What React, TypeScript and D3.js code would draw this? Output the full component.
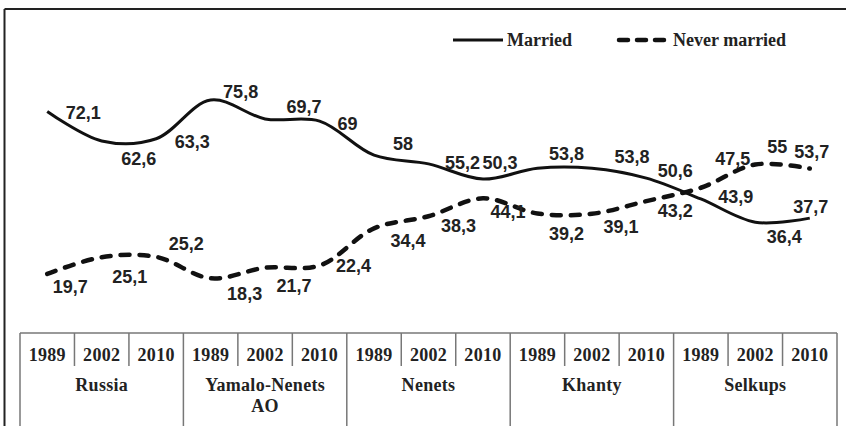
import React from "react";
import * as d3 from "d3";

const groups = ["Russia", "Yamalo-Nenets AO", "Nenets", "Khanty", "Selkups"];
const years = ["1989", "2002", "2010"];
const married = [72.1, 62.6, 63.3, 75.8, 69.7, 69, 58, 55.2, 50.3, 53.8, 53.8, 50.6, 43.9, 36.4, 37.7];
const neverMarried = [19.7, 25.1, 25.2, 18.3, 21.7, 22.4, 34.4, 38.3, 44.1, 39.2, 39.1, 43.2, 47.5, 55, 53.7];
const seriesNames = ["Married", "Never married"];

// manual data-label offsets (layout, as placed in the original)
const marriedLabelOffsets: [number, number][] = [
  [36, 8], [37, 24], [36, 9], [30, -2], [39, -6], [28, 9], [29, -5], [34, 5],
  [17, -10], [29, -8], [40, -5], [29, -1], [35, 4], [29, 21], [1, -5],
];
const neverLabelOffsets: [number, number][] = [
  [23, 19], [28, 26], [30, -7], [34, 22], [29, 24], [34, 6], [34, 19], [30, 16],
  [25, 20], [29, 27], [29, 19], [29, 16], [32, -23], [22, -12], [2, -11],
];

const W = 846;
const H = 426;
const tableLeft = 20;
const tableRight = 837;
const tableTop = 333;

export default function App() {
  const n = married.length;
  const x = d3.scaleBand<number>().domain(d3.range(n)).range([tableLeft, tableRight]).padding(0);
  const y = d3.scaleLinear().domain([0, 100]).range([335, 25]);
  const cx = (i: number) => (x(i) as number) + x.bandwidth() / 2;
  const line = d3
    .line<number>()
    .x((_, i) => cx(i))
    .y((d) => y(d))
    .curve(d3.curveCatmullRom.alpha(0.5));

  const fmt = (v: number) => String(v).replace(".", ",");
  const bw = x.bandwidth();
  const groupW = bw * 3;
  const labelFont = "'Liberation Sans', Arial, sans-serif";
  const serif = "'Liberation Serif', 'Times New Roman', serif";

  return (
    <svg width={W} height={H} style={{ position: "absolute", left: 0, top: 0, background: "#fff" }}>
      {/* outer frame */}
      <line x1={4.5} y1={9} x2={W} y2={9} stroke="#222" strokeWidth={2} />
      <line x1={4.5} y1={9} x2={4.5} y2={H} stroke="#222" strokeWidth={2} />

      {/* legend */}
      <g fontFamily={serif} fontWeight="bold" fontSize={18} fill="#222">
        <line x1={453} x2={503} y1={40} y2={40} stroke="#111" strokeWidth={3} />
        <text x={507} y={46}>{seriesNames[0]}</text>
        <line x1={619} x2={670} y1={40} y2={40} stroke="#111" strokeWidth={4.5} strokeDasharray="9,9" strokeLinecap="round" />
        <text x={673} y={46}>{seriesNames[1]}</text>
      </g>

      {/* lines */}
      <path d={line(married) || ""} fill="none" stroke="#111" strokeWidth={3} />
      <path
        d={line(neverMarried) || ""}
        fill="none"
        stroke="#111"
        strokeWidth={4.5}
        strokeDasharray="9,10"
        strokeLinecap="round"
      />

      {/* data labels */}
      <g fontFamily={labelFont} fontWeight="bold" fontSize={18} fill="#222" textAnchor="middle">
        {married.map((v, i) => (
          <text key={"m" + i} x={cx(i) + marriedLabelOffsets[i][0]} y={y(v) + marriedLabelOffsets[i][1]}>
            {fmt(v)}
          </text>
        ))}
        {neverMarried.map((v, i) => (
          <text key={"n" + i} x={cx(i) + neverLabelOffsets[i][0]} y={y(v) + neverLabelOffsets[i][1]}>
            {fmt(v)}
          </text>
        ))}
      </g>

      {/* category table */}
      <g stroke="#777" strokeWidth={1.5}>
        <line x1={tableLeft} x2={tableRight} y1={tableTop} y2={tableTop} />
        {d3.range(n + 1).map((i) => {
          const xx = tableLeft + i * bw;
          const isGroup = i % 3 === 0;
          return <line key={"v" + i} x1={xx} x2={xx} y1={tableTop} y2={isGroup ? H : 366} />;
        })}
      </g>
      <g fontFamily={serif} fontWeight="bold" fontSize={18} fill="#222" textAnchor="middle" letterSpacing={0.3}>
        {d3.range(n).map((i) => (
          <text key={"y" + i} x={cx(i)} y={361}>
            {years[i % 3]}
          </text>
        ))}
        {groups.map((g, gi) => {
          const gx = tableLeft + gi * groupW + groupW / 2;
          const parts = g === "Yamalo-Nenets AO" ? ["Yamalo-Nenets", "AO"] : [g];
          return (
            <text key={"g" + gi} x={gx} y={391}>
              {parts.map((p, pi) => (
                <tspan key={pi} x={gx} dy={pi === 0 ? 0 : 21}>
                  {p}
                </tspan>
              ))}
            </text>
          );
        })}
      </g>
    </svg>
  );
}
